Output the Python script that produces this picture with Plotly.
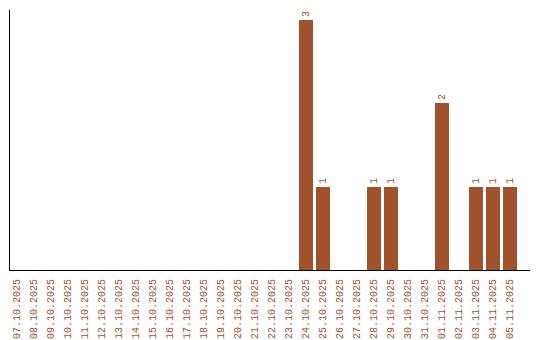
import plotly.graph_objects as go

dates = ["07.10.2025", "08.10.2025", "09.10.2025", "10.10.2025", "11.10.2025",
         "12.10.2025", "13.10.2025", "14.10.2025", "15.10.2025", "16.10.2025",
         "17.10.2025", "18.10.2025", "19.10.2025", "20.10.2025", "21.10.2025",
         "22.10.2025", "23.10.2025", "24.10.2025", "25.10.2025", "26.10.2025",
         "27.10.2025", "28.10.2025", "29.10.2025", "30.10.2025", "31.10.2025",
         "01.11.2025", "02.11.2025", "03.11.2025", "04.11.2025", "05.11.2025"]
counts = [0, 0, 0, 0, 0, 0, 0, 0, 0, 0, 0, 0, 0, 0, 0, 0, 0,
          3, 1, 0, 0, 1, 1, 0, 0, 2, 0, 1, 1, 1]

color = "#A0522D"
labels = [str(v) if v > 0 else "" for v in counts]

fig = go.Figure(go.Bar(
    x=dates, y=counts, marker_color=color, marker_line_width=0,
    width=14 / 17,
    text=labels, textposition="outside", textangle=-90,
    textfont=dict(family="Liberation Mono", size=10, color=color),
    cliponaxis=False,
))

fig.update_layout(
    width=540, height=340,
    margin=dict(l=10, r=10, t=10, b=70, autoexpand=False),
    paper_bgcolor="white", plot_bgcolor="white",
    showlegend=False,
    bargap=0,
    xaxis=dict(
        type="category",
        range=[-7 / 17, -7 / 17 + 520 / 17],
        showline=True, linecolor="black", linewidth=1,
        showgrid=False, ticks="", tickangle=-90, automargin=False,
        ticklabelstandoff=4,
        tickfont=dict(family="Liberation Mono", size=10, color=color),
    ),
    yaxis=dict(
        range=[0, 3.12], automargin=False,
        showline=True, linecolor="black", linewidth=1,
        showgrid=False, zeroline=False, showticklabels=False, ticks="",
    ),
)

fig.write_html("out.html")
